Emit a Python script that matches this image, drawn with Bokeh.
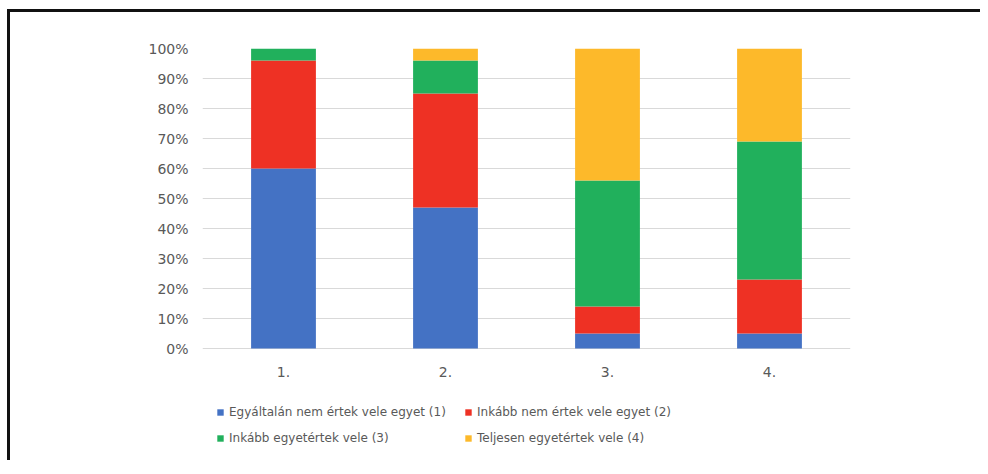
from bokeh.plotting import figure
from bokeh.models import ColumnDataSource, FactorRange, Range1d, FixedTicker, PrintfTickFormatter, Legend, LegendItem
from bokeh.embed import file_html
from bokeh.resources import INLINE

categories = ["1.", "2.", "3.", "4."]
series_names = [
    "Egyáltalán nem értek vele egyet (1)",
    "Inkább nem értek vele egyet (2)",
    "Inkább egyetértek vele (3)",
    "Teljesen egyetértek vele (4)",
]
s1 = [60, 47, 5, 5]
s2 = [36, 38, 9, 18]
s3 = [4, 11, 42, 46]
s4 = [0, 4, 44, 31]
y_ticks = [0, 10, 20, 30, 40, 50, 60, 70, 80, 90, 100]

colors = ["#4472C4", "#EE3124", "#21B05C", "#FDB92A"]
keys = ["s1", "s2", "s3", "s4"]
FONT = "DejaVu Sans"
TXT = "#595959"

source = ColumnDataSource(dict(cat=categories, s1=s1, s2=s2, s3=s3, s4=s4))

# frame: 648 x 412 px; 3 px per percent, the space below 0% holds axis labels and legend
p = figure(width=970, height=448, x_range=FactorRange(*categories, range_padding=0),
           y_range=Range1d(-37.33, 100), output_backend="svg", toolbar_location=None,
           frame_width=648, frame_height=412,
           min_border_left=192, min_border_right=130, min_border_top=36, min_border_bottom=0)
p.margin = (9, 0, 0, 7)
p.styles = {"border-top": "3px solid #111", "border-left": "3px solid #111"}

renderers = p.vbar_stack(keys, x="cat", width=0.4, color=colors, source=source, line_width=0)

p.outline_line_color = None
p.xgrid.grid_line_color = None
p.ygrid.grid_line_color = "#D9D9D9"
p.ygrid.grid_line_width = 1

p.yaxis.ticker = FixedTicker(ticks=y_ticks)
p.yaxis.formatter = PrintfTickFormatter(format="%d%%")
for ax in (p.xaxis[0], p.yaxis[0]):
    ax.axis_line_color = None
    ax.major_tick_line_color = None
    ax.minor_tick_line_color = None
    ax.major_tick_out = 0
    ax.major_tick_in = 0
    ax.major_label_text_font = FONT
    ax.major_label_text_color = TXT
p.yaxis.major_label_text_font_size = "14px"
p.yaxis.major_label_standoff = 14
p.xaxis.major_label_text_font_size = "14px"
p.xaxis.major_label_standoff = 18
p.xaxis.fixed_location = 0

common = dict(orientation="horizontal", label_text_font=FONT, label_text_font_size="12px",
              label_text_color=TXT, glyph_width=8, glyph_height=8, label_standoff=5,
              spacing=0, label_width=235, label_height=26, border_line_color=None,
              background_fill_alpha=0, padding=0, margin=0)
items = [LegendItem(label=n, renderers=[r]) for n, r in zip(series_names, renderers)]
legend1 = Legend(items=items[:2], location=(14, 35), **common)
legend2 = Legend(items=items[2:], location=(14, 9), **common)
p.add_layout(legend1, "center")
p.add_layout(legend2, "center")

open("out.html", "w").write(file_html(p, INLINE))
